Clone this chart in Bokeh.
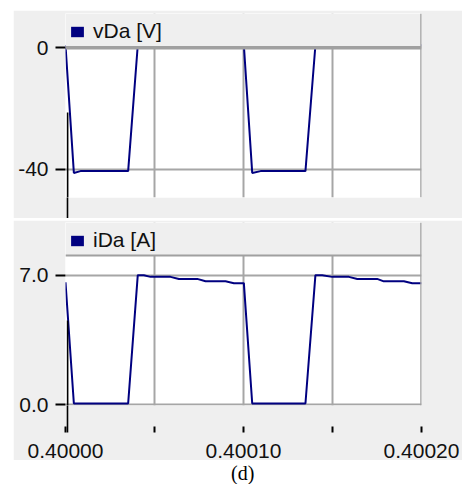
import numpy as np
from bokeh.plotting import figure
from bokeh.models import (Range1d, FixedTicker, BoxAnnotation, Span, Legend,
                          LegendItem, ColumnDataSource, Label)
from bokeh.layouts import column
from bokeh.embed import file_html
from bokeh.resources import INLINE

# ---- data (time in microseconds after 0.4 s) ----
t_us = [0.0, 4.7, 8.4, 12.5, 16.9, 20.9, 24.9, 29.4, 35.2, 40.6, 44.0, 47.8,
        51.5, 55.2, 59.0, 63.7, 68.9, 74.0, 78.7, 84.3, 89.9, 94.6, 100.2,
        104.9, 109.6, 114.2, 118.9, 123.6, 128.3, 134.8, 140.4, 144.2, 149.8,
        154.5, 159.2, 163.9, 169.5, 175.1, 178.8, 184.5, 190.1, 194.8, 199.4,
        200.0]
vDa = [0.8, -41.2, -40.6, -40.6, -40.6, -40.6, -40.6, -40.6, -40.6, 0.8, 0.8,
       0.8, 0.8, 0.8, 0.8, 0.8, 0.8, 0.8, 0.8, 0.8, 0.8, 0.8, 0.8,
       -41.2, -40.6, -40.6, -40.6, -40.6, -40.6, -40.6, 0.8, 0.8, 0.8,
       0.8, 0.8, 0.8, 0.8, 0.8, 0.8, 0.8, 0.8, 0.8, 0.8, 0.8]
iDa = [6.62, 0.08, 0.08, 0.08, 0.08, 0.08, 0.08, 0.08, 0.08, 7.0, 7.0, 6.91,
       6.91, 6.91, 6.91, 6.80, 6.80, 6.80, 6.67, 6.67, 6.67, 6.57, 6.57,
       0.08, 0.08, 0.08, 0.08, 0.08, 0.08, 0.08, 7.0, 7.0, 6.91,
       6.91, 6.91, 6.80, 6.80, 6.80, 6.67, 6.67, 6.67, 6.57, 6.57, 6.57]

x_ticks = [0.40000, 0.40005, 0.40010, 0.40015, 0.40020]
x_tick_labels = ["0.40000", "", "0.40010", "", "0.40020"]
v_ticks = [0, -40]
v_tick_labels = ["0", "-40"]
i_ticks = [0, 7]
i_tick_labels = ["0.0", "7.0"]
series_names = ["vDa [V]", "iDa [A]"]
caption = "(d)"
cursor_t = [0.4000012]   # position of the black cursor marker

t_sec = 0.4 + np.array(t_us) * 1e-6
src = ColumnDataSource(dict(t=t_sec, v=vDa, i=iDa))

NAVY = "#000080"
GRID = "#a6a6a6"
PANEL = "#efefef"
FONT = "Liberation Sans"
TXT = "#111111"
W = 449
FW = 356


def make_panel(frame_h, top_b, bottom_b, yr, yticks, ylabels, ycol, name,
               header_bottom, header_w, show_labels, cursor_top):
    p = figure(frame_width=FW, frame_height=frame_h,
               x_range=Range1d(0.4, 0.4002),
               y_range=yr, output_backend="svg", toolbar_location=None,
               min_border_left=52, min_border_right=W - 52 - FW,
               min_border_top=top_b, min_border_bottom=bottom_b,
               border_fill_color=PANEL, background_fill_color="white",
               outline_line_color=None)
    p.line("t", ycol, source=src, line_color=NAVY, line_width=2)

    # grids
    p.xgrid.ticker = FixedTicker(ticks=x_ticks[1:])
    p.ygrid.ticker = FixedTicker(ticks=yticks)
    for g in (p.xgrid[0], p.ygrid[0]):
        g.grid_line_color = GRID
        g.grid_line_width = 2

    # y axis
    ax = p.yaxis[0]
    ax.ticker = FixedTicker(ticks=yticks)
    ax.major_label_overrides = dict(zip(yticks, ylabels))
    ax.axis_line_color = None
    ax.minor_tick_line_color = None
    ax.major_tick_in = 0
    ax.major_tick_out = 10
    ax.major_tick_line_width = 2
    ax.major_tick_line_color = "black"
    ax.major_label_standoff = 7
    ax.major_label_text_font = FONT
    ax.major_label_text_font_size = "21px"
    ax.major_label_text_color = TXT

    # x axis (cursor drawn as a long minor tick below the frame)
    xa = p.xaxis[0]
    xa.axis_line_color = None
    xa.minor_tick_in = 0
    xa.minor_tick_line_width = 1.6
    xa.minor_tick_line_color = "black"
    if show_labels:
        xa.ticker = FixedTicker(ticks=x_ticks, minor_ticks=cursor_t)
        xa.major_label_overrides = dict(zip(x_ticks, x_tick_labels))
        xa.minor_tick_out = 27
        xa.major_tick_in = -21
        xa.major_tick_out = 27
        xa.major_tick_line_width = 2
        xa.major_tick_line_color = "black"
        xa.major_label_standoff = 11
        xa.major_label_text_font = FONT
        xa.major_label_text_font_size = "21px"
        xa.major_label_text_color = TXT
    else:
        xa.ticker = FixedTicker(ticks=[], minor_ticks=cursor_t)
        xa.minor_tick_out = bottom_b
        xa.major_tick_in = 0
        xa.major_tick_out = 0
        xa.major_label_standoff = 0
        xa.major_label_text_font_size = "0px"

    # cursor part inside the frame
    p.add_layout(BoxAnnotation(left=cursor_t[0] - 0.00000045,
                               right=cursor_t[0] + 0.00000045,
                               top=cursor_top, top_units="canvas",
                               fill_color="black", fill_alpha=1,
                               line_color=None, level="overlay"))

    # header strip (legend area)
    p.add_layout(BoxAnnotation(bottom=header_bottom, fill_color=PANEL,
                               fill_alpha=1, line_color=None))
    p.add_layout(Span(location=header_bottom, dimension="width",
                      line_color="#a0a0a0", line_width=header_w,
                      level="overlay"))
    p.add_layout(Span(location=0.4002, dimension="height",
                      line_color="#a0a0a0", line_width=2.5, level="overlay"))

    key = p.quad(left=[np.nan], right=[np.nan], top=[np.nan],
                 bottom=[np.nan], fill_color=NAVY, line_color=None)
    leg = Legend(items=[LegendItem(label=name, renderers=[key])],
                 location=(4, frame_h - 6 - 24), background_fill_alpha=0,
                 border_line_color=None, margin=0, padding=0,
                 label_standoff=8, glyph_width=16, glyph_height=13,
                 label_text_font=FONT, label_text_font_size="21px",
                 label_text_color=TXT, level="overlay")
    p.add_layout(leg)
    return p


top = make_panel(184, 3, 21, Range1d(-49.28, 11.25), v_ticks, v_tick_labels,
                 "v", series_names[0], 0, 3.5, False, 102)
bot = make_panel(183, 2, 53, Range1d(-0.027, 9.842), i_ticks, i_tick_labels,
                 "i", series_names[1], 8.062, 2, True, 100)

cap = figure(width=W, height=22, x_range=Range1d(0, W),
             y_range=Range1d(0, 22), output_backend="svg",
             toolbar_location=None, min_border=0, outline_line_color=None,
             border_fill_color="white", background_fill_color="white",
             x_axis_location=None, y_axis_location=None)
cap.grid.visible = False
cap.add_layout(Label(x=223.5, y=12, text=caption, text_align="center",
                     text_baseline="middle", text_font="Liberation Serif",
                     text_font_size="20px", text_color="black"))

layout = column(top, bot, cap, spacing=2, margin=(10, 0, 0, 13))

open("out.html", "w").write(file_html(layout, INLINE))
